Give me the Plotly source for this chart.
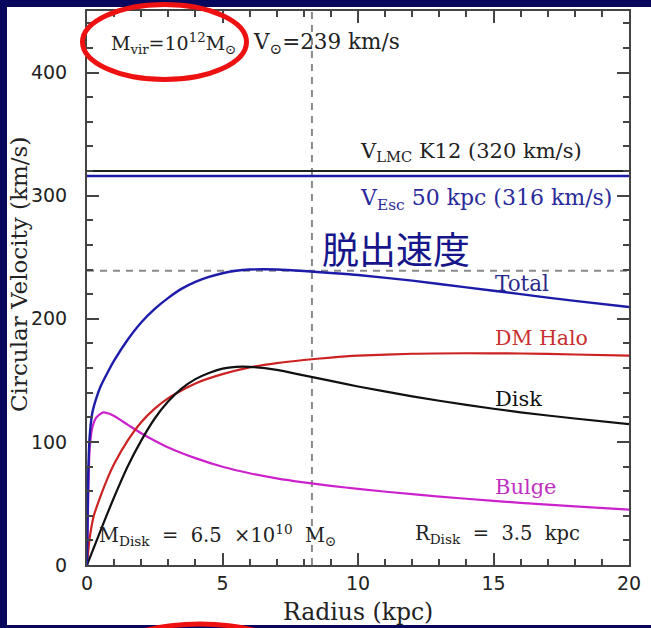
import plotly.graph_objects as go

# ---- data ----
radius_total = [0, 0.05, 0.1, 0.2, 0.35, 0.5, 0.75, 1, 1.5, 2, 2.5, 3, 3.5, 4, 4.5, 5, 5.5, 6, 6.5, 7, 8, 9, 10, 12, 14, 16, 18, 20]
v_total = [0, 78, 105, 124, 136, 145, 156, 166, 183, 197, 208, 217, 224.5, 230, 234, 237, 239, 240, 240.2, 240, 238.8, 237.2, 235.5, 231, 225.5, 220, 214.5, 209.5]

radius_halo = [0, 0.1, 0.25, 0.5, 0.75, 1, 1.5, 2, 2.5, 3, 3.5, 4, 5, 6, 7, 8, 9, 10, 12, 14, 16, 18, 20]
v_halo = [0, 22, 40, 56, 70, 82, 101, 116, 127, 135.5, 142, 147.5, 155, 160.5, 164, 166.5, 168.5, 170, 171.6, 172, 171.8, 171, 170]

radius_disk = [0, 0.5, 1, 1.5, 2, 2.5, 3, 3.5, 4, 4.5, 5, 5.5, 6, 7, 8, 9, 10, 12, 14, 16, 18, 20]
v_disk = [0, 28, 55, 80, 101, 119, 133, 143.5, 151, 156, 159.5, 161, 161, 158.5, 154, 149.5, 145, 137, 130, 124, 119, 114.5]

radius_bulge = [0, 0.05, 0.1, 0.2, 0.35, 0.6, 0.8, 1, 1.5, 2, 2.5, 3, 4, 5, 6, 7, 8, 9, 10, 12, 14, 16, 18, 20]
v_bulge = [0, 60, 95, 112, 120, 124, 123, 121, 114, 107, 101, 95.5, 86.8, 79.8, 74.5, 70.4, 67.1, 64.3, 61.8, 57.5, 53.8, 50.5, 47.6, 45]

v_lmc = 320
v_esc = 316
v_sun = 239
r_sun = 8.3

x_ticks = [0, 5, 10, 15, 20]
y_ticks = [0, 100, 200, 300, 400]

# ---- layout geometry ----
W, H = 651, 628
L, R, T, B = 87, 22, 11, 63
PW, PH = W - L - R, H - T - B


def px_x(px):
    return (px - L) / PW


def px_y(py):
    return (H - B - py) / PH


NAVY = "#07075e"
BLUE = "#1c1ca8"
RED = "#cc2222"
MAG = "#cc22cc"
SERIF = "DejaVu Serif"
SANS = "DejaVu Sans"

fig = go.Figure()

# reference horizontal / vertical lines
fig.add_trace(go.Scatter(x=[0, 20], y=[v_sun, v_sun], mode="lines",
                         line=dict(color="#8a8a8a", width=2, dash="7px,6px"), hoverinfo="skip"))
fig.add_trace(go.Scatter(x=[r_sun, r_sun], y=[0, 450], mode="lines",
                         line=dict(color="#8a8a8a", width=2, dash="7px,6px"), hoverinfo="skip"))
fig.add_trace(go.Scatter(x=[0, 20], y=[v_lmc, v_lmc], mode="lines",
                         line=dict(color="#222222", width=2)))
fig.add_trace(go.Scatter(x=[0, 20], y=[v_esc, v_esc], mode="lines",
                         line=dict(color=BLUE, width=2.5)))

# curves
fig.add_trace(go.Scatter(x=radius_bulge, y=v_bulge, mode="lines",
                         line=dict(color=MAG, width=2.2, shape="spline", smoothing=0.7)))
fig.add_trace(go.Scatter(x=radius_halo, y=v_halo, mode="lines",
                         line=dict(color=RED, width=2.2, shape="spline", smoothing=0.7)))
fig.add_trace(go.Scatter(x=radius_disk, y=v_disk, mode="lines",
                         line=dict(color="#111111", width=2.2, shape="spline", smoothing=0.7)))
fig.add_trace(go.Scatter(x=radius_total, y=v_total, mode="lines",
                         line=dict(color=BLUE, width=2.4, shape="spline", smoothing=0.7)))


def ann(text, x, y, color="#222222", size=20, xanchor="left", font=SERIF):
    fig.add_annotation(x=x, y=y, xref="x", yref="y", text=text, showarrow=False,
                       xanchor=xanchor, yanchor="middle",
                       font=dict(family=font, size=size, color=color))


ann("M<sub>vir</sub>=10<sup>12</sup>M<sub>⊙</sub>", 3.2, 424, xanchor="center", size=19)
ann("V<sub>⊙</sub>=239 km/s", 6.05, 424, size=21.5)
ann("V<sub>LMC</sub> K12 (320 km/s)", 10.0, 335.5, size=21)
ann("V<sub>Esc</sub> 50 kpc (316 km/s)", 10.0, 296.5, color="#2a2a9a", size=22)
ann("脱出速度", 8.6, 257.5, color="#16168a", size=37, font="Noto Sans CJK JP")
ann("Total", 14.98, 229, color="#2a2a8a", size=21.5)
ann("DM Halo", 14.98, 184, color="#c83030", size=20.5)
ann("Disk", 14.98, 135, color="#111111", size=21)
ann("Bulge", 14.98, 63.4, color="#c030c0", size=21)
ann("M<sub>Disk</sub>  =  6.5  ×10<sup>10</sup>  M<sub>⊙</sub>", 0.37, 24.4, size=19.5)
ann("R<sub>Disk</sub>  =  3.5  kpc", 12.03, 24.4, size=19.5)

# axis titles
fig.add_annotation(x=px_x(358), y=px_y(612), xref="paper", yref="paper", text="Radius (kpc)",
                   showarrow=False, xanchor="center", yanchor="middle",
                   font=dict(family=SERIF, size=23.5, color="#222222"))
fig.add_annotation(x=px_x(19), y=px_y(275), xref="paper", yref="paper", text="Circular Velocity (km/s)",
                   showarrow=False, xanchor="center", yanchor="middle", textangle=-90,
                   font=dict(family=SERIF, size=23, color="#222222"))

# background panel and border
fig.add_shape(type="rect", xref="paper", yref="paper", layer="below",
              x0=px_x(7), x1=px_x(660), y0=px_y(625), y1=px_y(7),
              fillcolor="white", line=dict(width=0))
# red highlight ellipses
fig.add_shape(type="circle", xref="paper", yref="paper",
              x0=px_x(82.5), x1=px_x(246.5), y0=px_y(79.5), y1=px_y(4.5),
              line=dict(color="#ee1111", width=5))
fig.add_shape(type="circle", xref="paper", yref="paper",
              x0=px_x(100), x1=px_x(300), y0=px_y(704), y1=px_y(624),
              line=dict(color="#ee1111", width=5))

axis_common = dict(showline=True, linecolor="#444444", linewidth=2, mirror="allticks",
                   ticks="inside", tickcolor="#444444", tickwidth=1.5, ticklen=12,
                   showgrid=False, zeroline=False,
                   tickfont=dict(family=SANS, size=19, color="#222222"))

fig.update_xaxes(range=[0, 20], tickvals=x_ticks, ticktext=[str(v) for v in x_ticks],
                 minor=dict(dtick=1, ticks="inside", ticklen=6, tickcolor="#444444", tickwidth=1.5),
                 **axis_common)
fig.update_yaxes(range=[0, 450], tickvals=y_ticks, ticktext=[str(v) for v in y_ticks],
                 minor=dict(dtick=20, ticks="inside", ticklen=6, tickcolor="#444444", tickwidth=1.5),
                 ticklabelstandoff=14,
                 **axis_common)

fig.update_layout(width=W, height=H, margin=dict(l=L, r=R, t=T, b=B, autoexpand=False),
                  paper_bgcolor=NAVY, plot_bgcolor="rgba(0,0,0,0)", showlegend=False)

fig.write_html("out.html")
